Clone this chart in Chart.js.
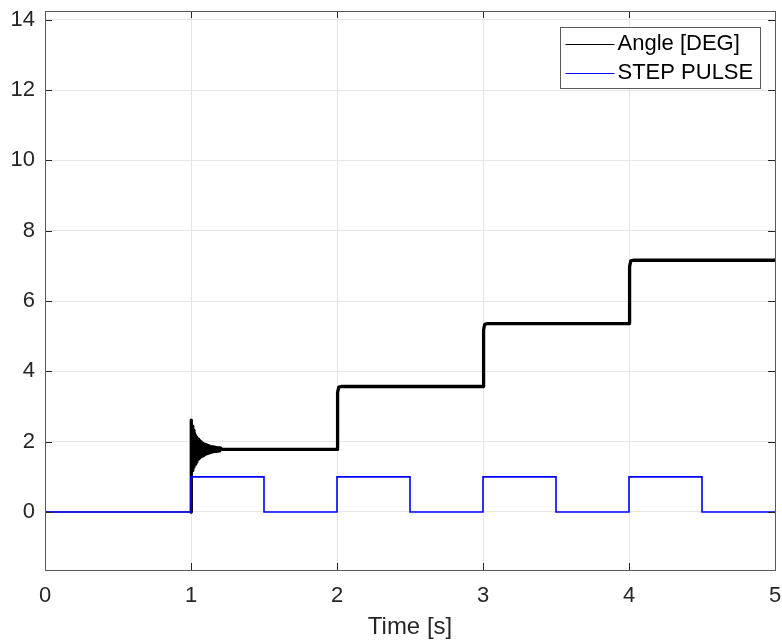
<!DOCTYPE html>
<html>
<head>
<meta charset="utf-8">
<script src="https://cdn.jsdelivr.net/npm/chart.js@4/dist/chart.umd.min.js"></script>
<style>
html,body{margin:0;padding:0;background:#fff;}
canvas{display:block;}
</style>
</head>
<body>
<canvas id="c" width="782" height="644"></canvas>
<script>
// ---- data ----
const xTicks = [0, 1, 2, 3, 4, 5];
const yTicks = [0, 2, 4, 6, 8, 10, 12, 14];
const xRange = [0, 5];
const yRange = [-1.65, 14.25];

const angleLabel = "Angle [DEG]";
const angleTime = [
  0, 1.000,
  1.000, 1.004, 1.008, 1.012, 1.016, 1.020, 1.024, 1.028, 1.032, 1.036,
  1.040, 1.044, 1.048, 1.052, 1.056, 1.060, 1.064, 1.068, 1.072, 1.076,
  1.080, 1.084, 1.088, 1.092, 1.096, 1.100, 1.104, 1.108, 1.112, 1.116,
  1.120, 1.124, 1.128, 1.132, 1.136, 1.140, 1.144, 1.148, 1.152, 1.156,
  1.160, 1.164, 1.168, 1.172, 1.176, 1.180, 1.184, 1.188, 1.192, 1.196,
  1.200, 1.204,
  2.000, 2.004, 2.012, 2.030,
  3.000, 3.004, 3.012, 3.030,
  4.000, 4.004, 4.012, 4.030,
  5.000
];
const angleValue = [
  0, 0,
  2.61, 1.04, 2.44, 1.18, 2.33, 1.28, 2.24, 1.36, 2.17, 1.42,
  2.12, 1.47, 2.07, 1.51, 2.03, 1.54, 2.00, 1.57, 1.98, 1.59,
  1.96, 1.61, 1.94, 1.63, 1.92, 1.645, 1.91, 1.66, 1.895, 1.67,
  1.88, 1.685, 1.87, 1.695, 1.86, 1.703, 1.854, 1.71, 1.847, 1.716,
  1.841, 1.722, 1.835, 1.727, 1.83, 1.732, 1.826, 1.736, 1.822, 1.74,
  1.818, 1.78,
  1.78, 3.40, 3.55, 3.57,
  3.57, 5.19, 5.34, 5.36,
  5.36, 6.98, 7.14, 7.16,
  7.16
];

const pulseLabel = "STEP PULSE";
const pulseTime  = [0, 1, 1, 1.5, 1.5, 2, 2, 2.5, 2.5, 3, 3, 3.5, 3.5, 4, 4, 4.5, 4.5, 5];
const pulseValue = [0, 0, 1, 1,   0,   0, 1, 1,   0,   0, 1, 1,   0,   0, 1, 1,   0,   0];

// ---- build chart ----
const FONT = "'Liberation Sans', Arial, Helvetica, sans-serif";
const TEXT = '#262626';

function pts(t, v){ return t.map((x,i)=>({x:x, y:v[i]})); }

const whiteBg = {
  id:'whiteBg',
  beforeDraw(chart){
    const c = chart.ctx; c.save(); c.fillStyle='#fff';
    c.fillRect(0,0,chart.width,chart.height); c.restore();
  }
};

const boxAndTicks = {
  id:'boxAndTicks',
  afterDatasetsDraw(chart){
    const {ctx, chartArea:a, scales} = chart;
    const L = 7;
    ctx.save();
    ctx.strokeStyle = TEXT; ctx.lineWidth = 1;
    ctx.beginPath();
    xTicks.forEach(v=>{
      const px = Math.round(scales.x.getPixelForValue(v))+0.5;
      ctx.moveTo(px, a.bottom); ctx.lineTo(px, a.bottom-L);
      ctx.moveTo(px, a.top); ctx.lineTo(px, a.top+L);
    });
    yTicks.forEach(v=>{
      const py = Math.round(scales.y.getPixelForValue(v))+0.5;
      ctx.moveTo(a.left, py); ctx.lineTo(a.left+L, py);
      ctx.moveTo(a.right, py); ctx.lineTo(a.right-L, py);
    });
    ctx.stroke();
    ctx.strokeStyle = '#5a5a5a';
    ctx.strokeRect(Math.round(a.left)+0.5, Math.round(a.top)+0.5,
                   Math.round(a.right-a.left), Math.round(a.bottom-a.top));
    ctx.restore();
  }
};

const innerLegend = {
  id:'innerLegend',
  afterDraw(chart){
    const {ctx, chartArea:a} = chart;
    const items = [chart.data.datasets[1], chart.data.datasets[0]];
    ctx.save();
    ctx.font = '22px ' + FONT;
    const tw = Math.max(...items.map(d=>ctx.measureText(d.label).width));
    const lineLen = 49, padL = 5, gap = 3, padR = 7;
    const w = padL + lineLen + gap + tw + padR;
    const h = 61;
    const x0 = Math.round(a.right - 15 - w) + 0.5;
    const y0 = Math.round(a.top + 16) + 0.5;
    ctx.fillStyle = '#fff';
    ctx.fillRect(x0, y0, w, h);
    ctx.strokeStyle = '#5a5a5a'; ctx.lineWidth = 1;
    ctx.strokeRect(x0, y0, Math.round(w), h);
    const rows = [y0 + 16, y0 + 45];
    items.forEach((d,i)=>{
      ctx.strokeStyle = d.borderColor; ctx.lineWidth = 1.2;
      ctx.beginPath();
      ctx.moveTo(x0 + padL, Math.round(rows[i])+0.5);
      ctx.lineTo(x0 + padL + lineLen, Math.round(rows[i])+0.5);
      ctx.stroke();
      ctx.fillStyle = '#000';
      ctx.textBaseline = 'middle'; ctx.textAlign = 'left';
      ctx.fillText(d.label, x0 + padL + lineLen + gap, rows[i]);
    });
    ctx.restore();
  }
};

new Chart(document.getElementById('c'), {
  type:'line',
  data:{
    datasets:[
      {
        label: pulseLabel,
        data: pts(pulseTime, pulseValue),
        borderColor:'#0000ff',
        borderWidth:1.6,
        pointRadius:0,
        tension:0,
        order:0
      },
      {
        label: angleLabel,
        data: pts(angleTime, angleValue),
        borderColor:'#000000',
        borderWidth:3.3,
        borderJoinStyle:'round',
        borderCapStyle:'round',
        pointRadius:0,
        tension:0,
        order:1,
        segment:{
          borderWidth: ctx => (ctx.p1.parsed.x <= 1 && ctx.p1.parsed.y === 0) ? 1 : 3.3
        }
      }
    ]
  },
  options:{
    responsive:false,
    animation:false,
    devicePixelRatio:1,
    layout:{padding:{top:11, right:7, left:0, bottom:0}},
    plugins:{legend:{display:false}, tooltip:{enabled:false}},
    scales:{
      x:{
        type:'linear',
        min:xRange[0], max:xRange[1],
        afterBuildTicks(s){ s.ticks = xTicks.map(v=>({value:v})); },
        afterFit(s){ s.height = 74; s.paddingLeft = 0; s.paddingRight = 0; },
        grid:{color:'#e6e6e6', drawTicks:false, lineWidth:1},
        border:{display:false},
        ticks:{color:TEXT, font:{family:FONT, size:22}, padding:13, maxRotation:0,
               callback:v=>String(v)},
        title:{display:true, text:'Time [s]', color:TEXT,
               font:{family:FONT, size:24}, padding:{top:0, bottom:2}}
      },
      y:{
        type:'linear',
        min:yRange[0], max:yRange[1],
        afterBuildTicks(s){ s.ticks = yTicks.map(v=>({value:v})); },
        afterFit(s){ s.width = 45; s.paddingTop = 0; s.paddingBottom = 0; },
        grid:{color:'#e6e6e6', drawTicks:false, lineWidth:1},
        border:{display:false},
        ticks:{color:TEXT, font:{family:FONT, size:22}, padding:10,
               callback:v=>String(v)}
      }
    }
  },
  plugins:[whiteBg, boxAndTicks, innerLegend]
});
</script>
</body>
</html>
